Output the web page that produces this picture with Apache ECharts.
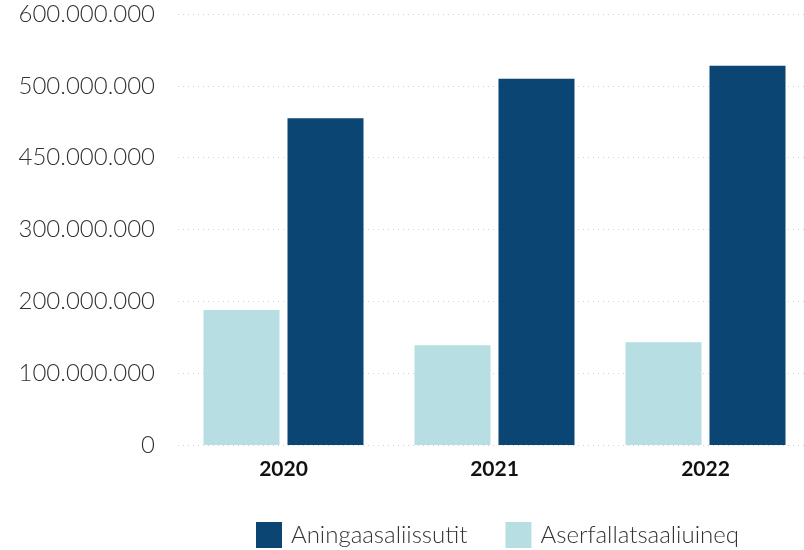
<!DOCTYPE html>
<html>
<head>
<meta charset="utf-8">
<script src="https://cdn.jsdelivr.net/npm/echarts@6/dist/echarts.min.js"></script>
<style>
html, body { margin: 0; padding: 0; background: #fff; }
#chart { width: 804px; height: 550px; }
</style>
</head>
<body>
<div id="chart"></div>
<script>
var years = ['2020', '2021', '2022'];
var aserfallatsaaliuineq = [188000000, 139000000, 143000000];
var aningaasaliissutit = [455000000, 510000000, 528000000];
var yTickLabels = ['0', '100.000.000', '200.000.000', '300.000.000', '450.000.000', '500.000.000', '600.000.000'];

var myChart = echarts.init(document.getElementById('chart'));
var option = {
    backgroundColor: '#ffffff',
    animation: false,
    grid: {
        left: 178,
        right: -7,
        top: 14,
        bottom: 105,
        containLabel: false,
        outerBoundsMode: 'none'
    },
    legend: {
        left: 251,
        top: 517,
        itemWidth: 26,
        itemHeight: 26,
        itemGap: 38,
        icon: 'rect',
        textStyle: {
            fontFamily: 'Lato',
            fontWeight: 300,
            fontSize: 24,
            color: '#333',
            padding: [0, 0, 0, 4]
        },
        data: ['Aningaasaliissutit', 'Aserfallatsaaliuineq']
    },
    xAxis: {
        type: 'category',
        data: years,
        axisLine: { show: false },
        axisTick: { show: false },
        axisLabel: {
            margin: 14,
            fontFamily: 'Lato',
            fontWeight: 'bold',
            fontSize: 21,
            color: '#111'
        }
    },
    yAxis: {
        type: 'value',
        min: 0,
        max: 600000000,
        interval: 100000000,
        axisLine: { show: false },
        axisTick: { show: false },
        axisLabel: {
            margin: 23,
            fontFamily: 'Lato',
            fontWeight: 300,
            fontSize: 24,
            color: '#333',
            formatter: function (v) {
                return yTickLabels[Math.round(v / 100000000)];
            }
        },
        splitLine: {
            lineStyle: { type: [1, 4], color: '#cfcfcf', width: 1 }
        }
    },
    series: [
        {
            name: 'Aserfallatsaaliuineq',
            type: 'bar',
            data: aserfallatsaaliuineq,
            barWidth: 76,
            barGap: '10.5%',
            itemStyle: { color: '#b6dee3' }
        },
        {
            name: 'Aningaasaliissutit',
            type: 'bar',
            data: aningaasaliissutit,
            barWidth: 76,
            barGap: '10.5%',
            itemStyle: { color: '#0a4573' }
        }
    ]
};
myChart.setOption(option);
</script>
</body>
</html>
